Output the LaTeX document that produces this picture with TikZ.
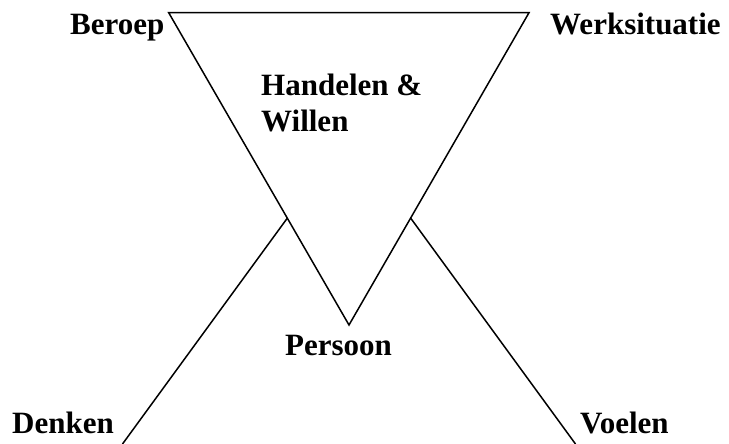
\documentclass[tikz,border=0pt]{standalone}
\usepackage{fontspec}
\setmainfont{Liberation Serif}
\tikzset{
  lbl/.style={inner sep=0pt, anchor=base west, font=\bfseries\fontsize{31}{36.7}\selectfont, align=left},
  ln/.style={line width=1.5pt, line join=miter}
}
\begin{document}
\begin{tikzpicture}[x=1pt,y=-1pt]
\useasboundingbox (0,0) rectangle (729,444);
\coordinate (tl) at (168.7,12.7);
\coordinate (tr) at (529,12.7);
\coordinate (bv) at (349,325);
\coordinate (bl) at (287.2,218.3);
\coordinate (br) at (410.8,218.3);
\coordinate (el) at (122.5,444);
\coordinate (er) at (575.5,444);
\draw[ln] (tl) -- (tr) -- (bv) -- cycle;
\draw[ln] (bl) -- (el);
\draw[ln] (br) -- (er);
\node[lbl] (beroep) at (70,35) {Beroep};
\node[lbl] (werk) at (550,35) {Werksituatie};
\node[lbl] (hand) at (261,131.7) {Handelen \&\\Willen};
\node[lbl] (pers) at (285,355) {Persoon};
\node[lbl] (denk) at (12,433) {Denken};
\node[lbl] (voel) at (580,433) {Voelen};
\end{tikzpicture}
\end{document}
